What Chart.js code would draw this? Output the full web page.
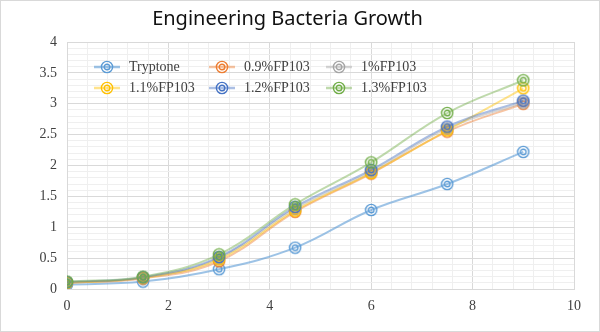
<!DOCTYPE html>
<html>
<head>
<meta charset="utf-8">
<script src="https://cdn.jsdelivr.net/npm/chart.js@4"></script>
<style>
  html, body { margin: 0; padding: 0; background: #fff; }
  #wrap { position: relative; width: 598px; height: 330px; border: 1px solid #d9d9d9; }
</style>
</head>
<body>
<div id="wrap"><canvas id="growthChart" width="598" height="330"></canvas></div>
<script>
'use strict'

const hours = [0, 1.5, 3, 4.5, 6, 7.5, 9]
const seriesNames = ['Tryptone', '0.9%FP103', '1%FP103', '1.1%FP103', '1.2%FP103', '1.3%FP103']
const tryptone = [0.07, 0.12, 0.32, 0.67, 1.28, 1.70, 2.22]
const fp09 = [0.10, 0.17, 0.45, 1.25, 1.87, 2.55, 3.00]
const fp10 = [0.10, 0.18, 0.50, 1.30, 1.90, 2.60, 3.02]
const fp11 = [0.10, 0.18, 0.48, 1.27, 1.88, 2.57, 3.25]
const fp12 = [0.11, 0.19, 0.52, 1.33, 1.93, 2.63, 3.05]
const fp13 = [0.12, 0.20, 0.56, 1.37, 2.05, 2.85, 3.38]
const allSeries = [tryptone, fp09, fp10, fp11, fp12, fp13]

const colors = ['#5B9BD5', '#ED7D31', '#A5A5A5', '#FFC000', '#4472C4', '#70AD47']
const lineColors = [
  'rgba(91, 155, 213, 0.6)',
  'rgba(237, 125, 49, 0.45)',
  'rgba(165, 165, 165, 0.45)',
  'rgba(255, 192, 0, 0.45)',
  'rgba(68, 114, 196, 0.45)',
  'rgba(112, 173, 71, 0.45)'
]

// double ring marker like the excel one
function ringMarker (color) {
  const c = document.createElement('canvas')
  c.width = 14
  c.height = 14
  const g = c.getContext('2d')
  g.strokeStyle = color
  g.lineWidth = 1.4
  g.beginPath()
  g.arc(7, 7, 5.6, 0, Math.PI * 2)
  g.stroke()
  g.beginPath()
  g.arc(7, 7, 2.8, 0, Math.PI * 2)
  g.stroke()
  return c
}
const markers = colors.map(ringMarker)

const isMult = (v, m) => Math.abs(v / m - Math.round(v / m)) < 1e-6

const insideLegend = {
  id: 'insideLegend',
  afterDatasetsDraw (chart) {
    const ctx = chart.ctx
    const cols = [106, 221, 338]
    const rows = [66, 87]
    ctx.save()
    ctx.font = '14px "Liberation Serif", "Times New Roman", serif'
    ctx.textBaseline = 'middle'
    ctx.textAlign = 'left'
    seriesNames.forEach((name, i) => {
      const x = cols[i % 3]
      const y = rows[Math.floor(i / 3)]
      ctx.strokeStyle = lineColors[i]
      ctx.lineWidth = 2.5
      ctx.beginPath()
      ctx.moveTo(x - 13, y)
      ctx.lineTo(x + 13, y)
      ctx.stroke()
      ctx.drawImage(markers[i], x - 7, y - 7)
      ctx.fillStyle = '#404040'
      ctx.fillText(name, x + 22, y)
    })
    ctx.restore()
  }
}

const ctx = document.getElementById('growthChart').getContext('2d')
const chart = new Chart(ctx, {
  type: 'line',
  data: {
    datasets: allSeries.map((vals, i) => ({
      label: seriesNames[i],
      data: hours.map((h, j) => ({ x: h, y: vals[j] })),
      borderColor: lineColors[i],
      backgroundColor: colors[i],
      borderWidth: 2,
      tension: 0.4,
      pointStyle: markers[i],
      order: 6 - i
    }))
  },
  options: {
    responsive: false,
    animation: false,
    layout: { padding: { left: 0, right: 25, top: 0, bottom: 0 } },
    plugins: {
      legend: { display: false },
      tooltip: { enabled: false },
      title: {
        display: true,
        text: 'Engineering Bacteria Growth',
        color: '#111',
        font: { family: '"Noto Sans", "Liberation Sans", sans-serif', size: 20, weight: 'normal' },
        padding: { top: 6, bottom: 11 }
      }
    },
    scales: {
      x: {
        type: 'linear',
        min: 0,
        max: 10,
        afterFit (scale) { scale.height = 42 },
        afterBuildTicks (scale) {
          const t = []
          for (let k = 0; k <= 25; k++) t.push({ value: +(k * 0.4).toFixed(1) })
          scale.ticks = t
        },
        grid: {
          color: c => isMult(c.tick.value, 2) ? '#d9d9d9' : '#efefef',
          drawTicks: false
        },
        border: { color: '#d9d9d9' },
        ticks: {
          autoSkip: false,
          maxRotation: 0,
          padding: 9,
          color: '#404040',
          font: { family: '"Liberation Serif", "Times New Roman", serif', size: 14 },
          callback: v => isMult(v, 2) ? String(Math.round(v)) : ''
        }
      },
      y: {
        min: 0,
        max: 4,
        afterFit (scale) { scale.width = 66 },
        afterBuildTicks (scale) {
          const t = []
          for (let k = 0; k <= 40; k++) t.push({ value: +(k * 0.1).toFixed(1) })
          scale.ticks = t
        },
        grid: {
          color: c => isMult(c.tick.value, 0.5) ? '#d9d9d9' : '#efefef',
          drawTicks: false
        },
        border: { color: '#d9d9d9' },
        ticks: {
          autoSkip: false,
          padding: 10,
          color: '#404040',
          font: { family: '"Liberation Serif", "Times New Roman", serif', size: 14 },
          callback: v => isMult(v, 0.5) ? String(+v.toFixed(1)) : ''
        }
      }
    }
  },
  plugins: [insideLegend]
})
</script>
</body>
</html>
